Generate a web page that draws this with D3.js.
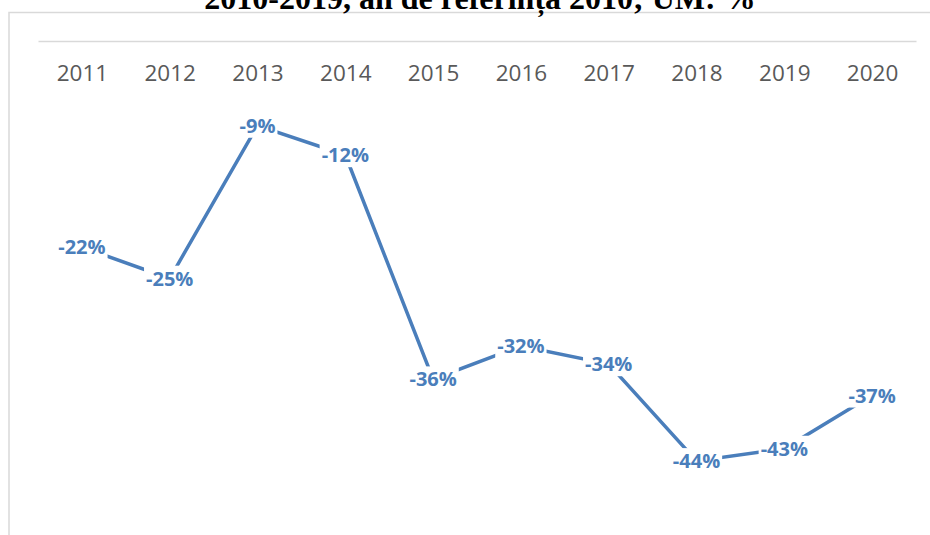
<!DOCTYPE html>
<html>
<head>
<meta charset="utf-8">
<script src="https://cdn.jsdelivr.net/npm/d3@7"></script>
<style>
  html, body { margin: 0; padding: 0; background: #fff; }
  svg { display: block; }
</style>
</head>
<body>
<div id="chart"></div>
<script>
// ── Data ──
const titleText = "2010-2019, an de referință 2010; UM: %";
const years = ["2011", "2012", "2013", "2014", "2015", "2016", "2017", "2018", "2019", "2020"];
const change = [-21.7, -25.0, -8.9, -12.0, -35.6, -32.1, -34.0, -44.2, -42.9, -37.3];
const yDomain = [0, -50];

const W = 930, H = 535;
const lineColor = "#4a7ebb";
const gridColor = "#d9d9d9";

const svg = d3.select("#chart").append("svg")
    .attr("width", W)
    .attr("height", H);

// ── Chart frame ──
svg.append("path")
    .attr("d", `M 9 ${H} L 9 12.5 L ${W} 12.5`)
    .attr("fill", "none")
    .attr("stroke", gridColor)
    .attr("stroke-width", 1.5);

// ── Title (cut off at the top, as in the source) ──
svg.append("text")
    .attr("x", 480)
    .attr("y", 9)
    .attr("text-anchor", "middle")
    .attr("font-family", "'Liberation Serif', 'Times New Roman', serif")
    .attr("font-weight", "bold")
    .attr("font-size", 32)
    .attr("fill", "#000")
    .text(titleText);

// ── Scales ──
const x = d3.scalePoint()
    .domain(years)
    .range([38, 916])
    .padding(0.5);

const y = d3.scaleLinear()
    .domain(yDomain)
    .range([41, 516]);

// ── Category axis at zero (top) ──
const xAxis = svg.append("g")
    .attr("transform", `translate(0,${y(0)})`)
    .call(d3.axisBottom(x).tickSize(0).tickPadding(24));

xAxis.select(".domain")
    .attr("stroke", gridColor)
    .attr("stroke-width", 1.5);

xAxis.selectAll("text")
    .attr("font-family", "'Open Sans', 'Noto Sans', sans-serif")
    .attr("font-size", 22.5)
    .attr("fill", "#595959");

// ── Line ──
const pts = years.map((yr, i) => ({ year: yr, v: change[i] }));

svg.append("path")
    .datum(pts)
    .attr("fill", "none")
    .attr("stroke", lineColor)
    .attr("stroke-width", 3.5)
    .attr("d", d3.line().x(d => x(d.year)).y(d => y(d.v)));

// ── Data labels (white box so the line breaks around them) ──
const fmt = v => Math.round(v) + "%";

const lab = svg.append("g").selectAll("g")
    .data(pts)
    .join("g")
    .attr("transform", d => `translate(${x(d.year)},${y(d.v)})`);

const labText = lab.append("text")
    .attr("text-anchor", "middle")
    .attr("dy", "0.36em")
    .attr("font-family", "'Open Sans', 'Noto Sans', sans-serif")
    .attr("font-weight", "bold")
    .attr("font-size", 20)
    .attr("fill", lineColor)
    .text(d => fmt(d.v));

labText.each(function () {
    const b = this.getBBox();
    d3.select(this.parentNode).insert("rect", "text")
        .attr("x", b.x - 2)
        .attr("y", b.y + 1)
        .attr("width", b.width + 4)
        .attr("height", b.height - 2)
        .attr("fill", "#fff");
});
</script>
</body>
</html>
